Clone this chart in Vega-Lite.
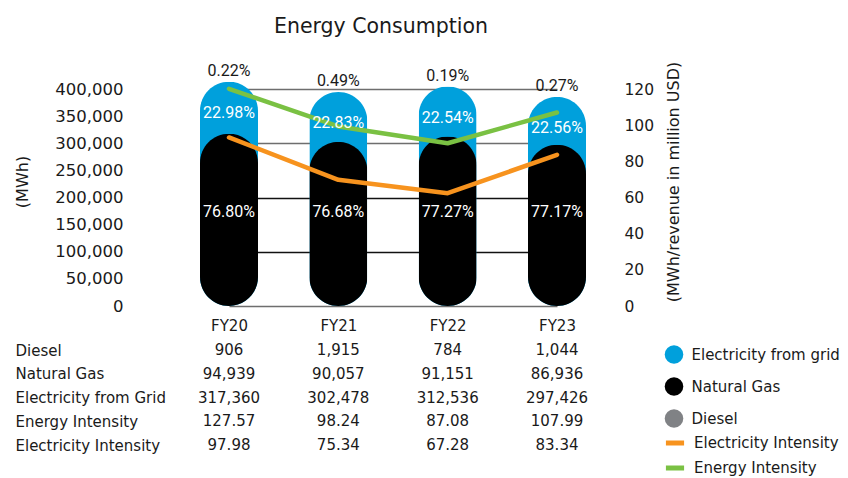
{
  "$schema": "https://vega.github.io/schema/vega-lite/v6.json",
  "width": 482,
  "height": 217,
  "padding": {"left": 14, "top": 16, "right": 0, "bottom": 0},
  "autosize": {"type": "pad"},
  "title": {"text": "Energy Consumption", "fontSize": 20.5, "fontWeight": "normal", "font": "DejaVu Sans", "color": "#1a1a1a", "dx": 10, "offset": 24},
  "config": {
    "view": {"stroke": null},
    "font": "DejaVu Sans",
    "text": {"font": "DejaVu Sans"},
    "axis": {"labelFont": "DejaVu Sans", "titleFont": "DejaVu Sans"},
    "legend": {"labelFont": "DejaVu Sans"}
  },
  "datasets": {
    "energy": [
      {"year": "FY20", "item": "Diesel", "value": 906, "share": 0.0022},
      {"year": "FY20", "item": "Natural Gas", "value": 94939, "share": 0.2298},
      {"year": "FY20", "item": "Electricity from Grid", "value": 317360, "share": 0.7680},
      {"year": "FY21", "item": "Diesel", "value": 1915, "share": 0.0049},
      {"year": "FY21", "item": "Natural Gas", "value": 90057, "share": 0.2283},
      {"year": "FY21", "item": "Electricity from Grid", "value": 302478, "share": 0.7668},
      {"year": "FY22", "item": "Diesel", "value": 784, "share": 0.0019},
      {"year": "FY22", "item": "Natural Gas", "value": 91151, "share": 0.2254},
      {"year": "FY22", "item": "Electricity from Grid", "value": 312536, "share": 0.7727},
      {"year": "FY23", "item": "Diesel", "value": 1044, "share": 0.0027},
      {"year": "FY23", "item": "Natural Gas", "value": 86936, "share": 0.2256},
      {"year": "FY23", "item": "Electricity from Grid", "value": 297426, "share": 0.7717}
    ],
    "intensity": [
      {"year": "FY20", "item": "Energy Intensity", "value": 127.57},
      {"year": "FY21", "item": "Energy Intensity", "value": 98.24},
      {"year": "FY22", "item": "Energy Intensity", "value": 87.08},
      {"year": "FY23", "item": "Energy Intensity", "value": 107.99},
      {"year": "FY20", "item": "Electricity Intensity", "value": 97.98},
      {"year": "FY21", "item": "Electricity Intensity", "value": 75.34},
      {"year": "FY22", "item": "Electricity Intensity", "value": 67.28},
      {"year": "FY23", "item": "Electricity Intensity", "value": 83.34}
    ],
    "lines": [
      {"year": "FY20", "series": "Electricity Intensity", "value": 93.2},
      {"year": "FY21", "series": "Electricity Intensity", "value": 69.8},
      {"year": "FY22", "series": "Electricity Intensity", "value": 62.4},
      {"year": "FY23", "series": "Electricity Intensity", "value": 83.6},
      {"year": "FY20", "series": "Energy Intensity", "value": 120.1},
      {"year": "FY21", "series": "Energy Intensity", "value": 99.3},
      {"year": "FY22", "series": "Energy Intensity", "value": 90.0},
      {"year": "FY23", "series": "Energy Intensity", "value": 107.0}
    ]
  },
  "layer": [
    {
      "data": {"name": "energy"},
      "transform": [{"joinaggregate": [{"op": "sum", "field": "value", "as": "total"}], "groupby": ["year"]}],
      "layer": [
        {
          "transform": [{"filter": "datum.item === 'Natural Gas'"}],
          "mark": {"type": "bar", "width": 58, "cornerRadius": 29},
          "encoding": {
            "x": {"field": "year", "type": "ordinal", "scale": {"type": "point", "range": [99, 427], "padding": 0},
                  "axis": {"orient": "bottom", "offset": 0, "domain": false, "ticks": false, "labelPadding": 19, "labelFontSize": 15, "labelColor": "#1a1a1a", "labelAngle": 0, "labelBaseline": "middle", "title": null, "grid": false}},
            "y": {"field": "total", "type": "quantitative", "scale": {"domain": [0, 400000], "nice": false},
                  "axis": {"orient": "left", "offset": 0, "values": [0, 50000, 100000, 150000, 200000, 250000, 300000, 350000, 400000], "format": ",d", "domain": false, "ticks": false, "labelPadding": 7, "labelFontSize": 16.5, "labelColor": "#1a1a1a", "grid": true, "gridWidth": 1.3,
                           "gridColor": {"condition": {"test": "datum.value === 100000 || datum.value === 200000", "value": "#111111"}, "value": "#6e6e6e"},
                           "gridOpacity": {"condition": {"test": "datum.value % 100000 !== 0", "value": 0}, "value": 1},
                           "title": "(MWh)", "titleFontSize": 16, "titleFontWeight": "normal", "titleColor": "#1a1a1a", "titleAngle": -90, "titleX": -107.5, "titleY": 92.5, "titleAlign": "center", "titleBaseline": "middle"}},
            "fill": {"datum": "Electricity from grid", "type": "nominal",
                     "scale": {"domain": ["Electricity from grid", "Natural Gas", "Diesel"], "range": ["#00a0dc", "#000000", "#808285"]},
                     "legend": {"orient": "none", "legendX": 534.5, "legendY": 256, "title": null, "symbolType": "circle", "symbolSize": 346, "symbolStrokeWidth": 0, "labelFontSize": 15, "labelColor": "#1a1a1a", "rowPadding": 13, "labelOffset": 8, "padding": 0}}
          }
        },
        {
          "transform": [{"filter": "datum.item === 'Electricity from Grid'"}],
          "mark": {"type": "bar", "width": 58, "cornerRadius": 29},
          "encoding": {
            "x": {"field": "year", "type": "ordinal"},
            "y": {"field": "value", "type": "quantitative",
                  "axis": {"orient": "left", "offset": 0, "values": [0, 50000, 100000, 150000, 200000, 250000, 300000, 350000, 400000], "format": ",d", "domain": false, "ticks": false, "labelPadding": 7, "labelFontSize": 16.5, "labelColor": "#1a1a1a", "grid": true, "gridWidth": 1.3,
                           "gridColor": {"condition": {"test": "datum.value === 100000 || datum.value === 200000", "value": "#111111"}, "value": "#6e6e6e"},
                           "gridOpacity": {"condition": {"test": "datum.value % 100000 !== 0", "value": 0}, "value": 1},
                           "title": "(MWh)", "titleFontSize": 16, "titleFontWeight": "normal", "titleColor": "#1a1a1a", "titleAngle": -90, "titleX": -107.5, "titleY": 92.5, "titleAlign": "center", "titleBaseline": "middle"}},
            "fill": {"datum": "Natural Gas", "type": "nominal"}
          }
        }
      ]
    },
    {
      "data": {"name": "lines"},
      "mark": {"type": "line", "strokeWidth": 4.5, "strokeCap": "round", "strokeJoin": "round"},
      "encoding": {
        "x": {"field": "year", "type": "ordinal"},
        "y": {"field": "value", "type": "quantitative", "scale": {"domain": [0, 120], "nice": false},
              "axis": {"orient": "right", "offset": 0, "values": [0, 20, 40, 60, 80, 100, 120], "domain": false, "ticks": false, "grid": false, "labelPadding": 12, "labelFontSize": 15.5, "labelColor": "#1a1a1a",
                       "title": "(MWh/revenue in million USD)", "titleFontSize": 16, "titleFontWeight": "normal", "titleColor": "#1a1a1a", "titleAngle": -90, "titleX": 61, "titleY": 92.5, "titleAlign": "center", "titleBaseline": "middle"}},
        "stroke": {"field": "series", "type": "nominal",
                   "scale": {"domain": ["Electricity Intensity", "Energy Intensity"], "range": ["#f7931e", "#7ac143"]},
                   "legend": {"orient": "none", "legendX": 533, "legendY": 342, "title": null, "symbolType": "stroke", "symbolSize": 330, "symbolStrokeWidth": 5, "labelFontSize": 15, "labelColor": "#1a1a1a", "rowPadding": 3, "labelOffset": 7, "padding": 0}}
      }
    },
    {
      "data": {"name": "energy"},
      "transform": [{"joinaggregate": [{"op": "sum", "field": "value", "as": "total"}], "groupby": ["year"]}],
      "encoding": {
        "x": {"field": "year", "type": "ordinal"},
        "text": {"field": "share", "type": "quantitative", "format": ".2%"}
      },
      "layer": [
        {
          "transform": [{"filter": "datum.item === 'Natural Gas'"}],
          "mark": {"type": "text", "font": "Roboto", "color": "#ffffff", "fontSize": 16, "baseline": "middle", "dy": 31},
          "encoding": {"y": {"field": "total", "type": "quantitative", "scale": {"domain": [0, 400000], "nice": false}, "axis": null}}
        },
        {
          "transform": [{"filter": "datum.item === 'Electricity from Grid'"}],
          "mark": {"type": "text", "font": "Roboto", "color": "#ffffff", "fontSize": 16, "baseline": "middle"},
          "encoding": {"y": {"datum": 174000, "type": "quantitative", "axis": null}}
        },
        {
          "transform": [{"filter": "datum.item === 'Diesel'"}],
          "mark": {"type": "text", "font": "Roboto", "color": "#1a1a1a", "fontSize": 16, "baseline": "middle", "dy": -11},
          "encoding": {"y": {"field": "total", "type": "quantitative", "axis": null}}
        }
      ]
    },
    {
      "layer": [
        {
          "data": {"name": "energy"},
          "mark": {"type": "text", "fontSize": 15, "color": "#1a1a1a", "baseline": "middle"},
          "encoding": {
            "x": {"field": "year", "type": "ordinal"},
            "y": {"field": "item", "type": "nominal",
                  "scale": {"type": "point", "domain": ["Diesel", "Natural Gas", "Electricity from Grid", "Energy Intensity", "Electricity Intensity"], "range": [261, 356], "padding": 0},
                  "axis": {"orient": "left", "offset": 0, "domain": false, "ticks": false, "grid": false, "labelAlign": "left", "labelPadding": 115, "labelFontSize": 15, "labelColor": "#1a1a1a", "labelBaseline": "middle", "title": null}},
            "text": {"field": "value", "type": "quantitative", "format": ","}
          }
        },
        {
          "data": {"name": "intensity"},
          "mark": {"type": "text", "fontSize": 15, "color": "#1a1a1a", "baseline": "middle"},
          "encoding": {
            "x": {"field": "year", "type": "ordinal"},
            "y": {"field": "item", "type": "nominal"},
            "text": {"field": "value", "type": "quantitative", "format": ".2f"}
          }
        }
      ]
    }
  ],
  "resolve": {"scale": {"y": "independent"}}
}
